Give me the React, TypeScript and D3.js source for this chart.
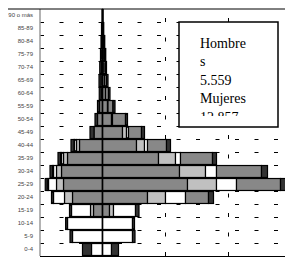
import * as d3 from 'd3';
import { useEffect, useRef } from 'react';

// grupos de edad, de abajo hacia arriba
const ages = ['0-4', '5-9', '10-14', '15-19', '20-24', '25-29', '30-34', '35-39', '40-44', '45-49',
    '50-54', '55-59', '60-64', '65-69', '70-74', '75-79', '80-84', '85-89', '90 o más'];

// hombres (lado izquierdo), % por serie
const hombres1 = [0, 0, 0, 0.72, 2.4, 3.12, 3.28, 2.8, 1.84, 0.68, 0.4, 0.24, 0.1, 0.12, 0.08, 0.06, 0.04, 0.03, 0.01];
const hombres2 = [0, 0, 0, 0.24, 0.64, 0.56, 0.4, 0.32, 0.24, 0, 0, 0, 0, 0, 0, 0, 0, 0, 0];
const hombres3 = [0.88, 2.4, 2.8, 1.52, 0.88, 0.64, 0.24, 0.16, 0.16, 0, 0, 0, 0, 0, 0, 0, 0, 0, 0];
const hombres4 = [0, 0, 0, 0, 0, 0.1, 0.08, 0.08, 0.04, 0, 0, 0, 0, 0, 0, 0, 0, 0, 0];
const hombres5 = [0.72, 0.2, 0.15, 0.16, 0.16, 0.16, 0.2, 0.2, 0.24, 0.32, 0.2, 0.16, 0.16, 0.16, 0.14, 0.1, 0.08, 0.05, 0.01];

// mujeres (lado derecho), % por serie
const mujeres1 = [0, 0, 0, 0.56, 3.6, 6.8, 6.16, 4.48, 2.72, 1.6, 0.72, 0.4, 0.24, 0.16, 0.12, 0.1, 0.06, 0.04, 0.01];
const mujeres2 = [0, 0, 0, 0.32, 1.44, 2.32, 2.08, 1.36, 0.64, 0.32, 0.04, 0.02, 0, 0, 0, 0, 0, 0, 0];
const mujeres3 = [0.72, 2.4, 2.4, 1.76, 1.6, 1.6, 0.88, 0.4, 0.24, 0.16, 0.04, 0.02, 0, 0, 0, 0, 0, 0, 0];
const mujeres4 = [0, 0, 0, 0, 1.84, 3.52, 3.6, 2.56, 1.52, 1.04, 1.04, 0.4, 0.24, 0.16, 0.12, 0.08, 0.06, 0.03, 0.01];
const mujeres5 = [0.56, 0.2, 0.16, 0.28, 0.4, 0.48, 0.48, 0.32, 0.32, 0.24, 0.16, 0.16, 0.12, 0.12, 0.08, 0.08, 0.06, 0.03, 0.01];

const xTicks = [-5, 0, 5, 10, 15];
const xTickLabels = ['5,0%', '0%', '5,0%', '10,0%', '15,0%'];
const boxLines = ['Hombre', 's', '5.559', 'Mujeres', '12.857'];

const keys = ['s1', 's2', 's3', 's4', 's5'];
const colors = ['#888888', '#c0c0c0', '#ffffff', '#888888', '#333333'];

const App = () => {
    const svgRef = useRef<SVGSVGElement>(null);

    useEffect(() => {
        const width = 293;
        const height = 269;
        const left = 40;
        const right = 290;
        const top = 9;
        const bottom = 256;

        const svg = d3.select(svgRef.current);
        svg.selectAll('*').remove();
        svg.attr('width', width).attr('height', height);

        const x = d3.scaleLinear().domain([-5, 15]).range([left, right]);
        const y = d3
            .scaleBand()
            .domain(ages)
            .range([bottom, top])
            .paddingInner(0.08)
            .paddingOuter(0.04);
        const step = (bottom - top) / ages.length;

        svg.append('rect').attr('width', width).attr('height', height).attr('fill', '#fff');

        // líneas de cuadrícula punteadas
        const grid = svg.append('g').attr('stroke', '#000').attr('stroke-width', 1).attr('stroke-dasharray', '4 15.5');
        d3.range(1, ages.length).forEach((i) => {
            const gy = Math.round(bottom - i * step) + 0.5;
            grid.append('line').attr('x1', left).attr('x2', right).attr('y1', gy).attr('y2', gy);
        });
        [5, 10].forEach((v) => {
            grid.append('line')
                .attr('x1', Math.round(x(v)) + 0.5)
                .attr('x2', Math.round(x(v)) + 0.5)
                .attr('y1', bottom)
                .attr('y2', top);
        });

        const color = d3.scaleOrdinal<string, string>().domain(keys).range(colors);
        const stack = d3.stack<any>().keys(keys);

        const hombres = stack(
            ages.map((age, i) => ({
                age,
                s1: hombres1[i], s2: hombres2[i], s3: hombres3[i], s4: hombres4[i], s5: hombres5[i],
            }))
        );
        const mujeres = stack(
            ages.map((age, i) => ({
                age,
                s1: mujeres1[i], s2: mujeres2[i], s3: mujeres3[i], s4: mujeres4[i], s5: mujeres5[i],
            }))
        );

        const bars = svg.append('g').attr('stroke', '#000').attr('stroke-width', 1.2);

        // hombres hacia la izquierda
        bars.selectAll('g.h')
            .data(hombres)
            .enter()
            .append('g')
            .attr('fill', (d) => color(d.key))
            .selectAll('rect')
            .data((d) => d.filter((p) => p[1] - p[0] > 0))
            .enter()
            .append('rect')
            .attr('x', (d) => x(-d[1]))
            .attr('y', (d) => y(d.data.age) as number)
            .attr('width', (d) => x(-d[0]) - x(-d[1]))
            .attr('height', y.bandwidth());

        // mujeres hacia la derecha
        bars.selectAll('g.m')
            .data(mujeres)
            .enter()
            .append('g')
            .attr('fill', (d) => color(d.key))
            .selectAll('rect')
            .data((d) => d.filter((p) => p[1] - p[0] > 0))
            .enter()
            .append('rect')
            .attr('x', (d) => x(d[0]))
            .attr('y', (d) => y(d.data.age) as number)
            .attr('width', (d) => x(d[1]) - x(d[0]))
            .attr('height', y.bandwidth());

        // borde del área de trazado
        svg.append('line').attr('x1', left).attr('x2', left).attr('y1', top).attr('y2', bottom)
            .attr('stroke', '#9a9a9a').attr('stroke-width', 1.5);
        svg.append('line').attr('x1', right).attr('x2', right).attr('y1', top).attr('y2', bottom)
            .attr('stroke', '#9a9a9a').attr('stroke-width', 1.5);
        svg.append('line').attr('x1', 7).attr('x2', right).attr('y1', top).attr('y2', top)
            .attr('stroke', '#000').attr('stroke-width', 1);
        svg.append('line').attr('x1', 7).attr('x2', 7).attr('y1', top).attr('y2', height)
            .attr('stroke', '#000').attr('stroke-width', 1);
        svg.append('line').attr('x1', left).attr('x2', right).attr('y1', bottom + 0.5).attr('y2', bottom + 0.5)
            .attr('stroke', '#000').attr('stroke-width', 1);

        // eje central
        svg.append('line').attr('x1', x(0)).attr('x2', x(0)).attr('y1', top).attr('y2', bottom)
            .attr('stroke', '#000').attr('stroke-width', 1.5);

        // etiquetas de edad
        svg.append('g')
            .selectAll('text')
            .data(ages)
            .enter()
            .append('text')
            .attr('x', 33)
            .attr('y', (d) => (y(d) as number) + y.bandwidth() / 2)
            .attr('dy', '0.3em')
            .style('text-anchor', 'end')
            .style('font-family', 'Arial, Liberation Sans, sans-serif')
            .style('font-size', '6px')
            .style('fill', '#444')
            .text((d) => d);

        // etiquetas del eje X (la última se ajusta al borde)
        svg.append('g')
            .selectAll('text')
            .data(xTicks)
            .enter()
            .append('text')
            .attr('x', (d, i) => (i === xTicks.length - 1 ? width - 1 : x(d)))
            .attr('y', 265)
            .style('text-anchor', (d, i) => (i === xTicks.length - 1 ? 'end' : 'middle'))
            .style('font-family', 'Arial, Liberation Sans, sans-serif')
            .style('font-size', '6px')
            .style('fill', '#444')
            .text((d, i) => xTickLabels[i]);

        // cuadro de texto
        svg.append('defs').append('clipPath').attr('id', 'boxclip')
            .append('rect').attr('x', 179).attr('y', 22).attr('width', 99).attr('height', 94);
        svg.append('rect').attr('x', 179).attr('y', 22).attr('width', 99).attr('height', 105)
            .attr('fill', '#fff').attr('stroke', '#000').attr('stroke-width', 1.5);
        const box = svg.append('g').attr('clip-path', 'url(#boxclip)');
        boxLines.forEach((t, i) => {
            box.append('text')
                .attr('x', 200)
                .attr('y', 47.5 + i * 18.5)
                .style('font-family', 'Liberation Serif, Times New Roman, serif')
                .style('font-size', '14px')
                .style('fill', '#000')
                .text(t);
        });
    }, []);

    return (
        <div style={{ margin: -8 }}>
            <svg ref={svgRef} style={{ display: 'block' }} />
        </div>
    );
};

export default App;
